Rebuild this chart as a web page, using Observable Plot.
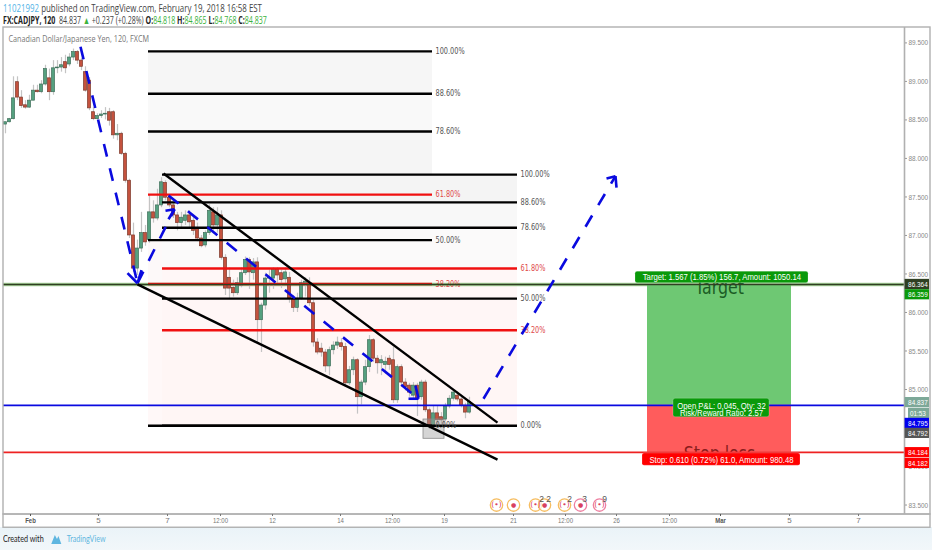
<!DOCTYPE html>
<html><head><meta charset="utf-8">
<script src="https://cdn.jsdelivr.net/npm/d3@7"></script>
<script src="https://cdn.jsdelivr.net/npm/@observablehq/plot@0.6"></script>
<style>
html,body{margin:0;padding:0;background:#fff;overflow:hidden;width:932px;height:550px}
#head{height:26px;font:10.4px/12px "Open Sans",sans-serif;color:#444;padding:2px 0 0 3px;box-sizing:border-box;white-space:nowrap;}
#head>div{transform:scaleX(.68);transform-origin:0 0}
#head>div:first-child{transform:scaleX(.76)}
#head .b{font-weight:700;color:#222}#head .g{color:#3cb33c}#head .u{color:#53b3e6}
#chart{height:501px}#chart svg{display:block}
#foot{height:23px;background:linear-gradient(#eaf3f8,#f2f7fa);padding-left:3px;box-sizing:border-box}
#foot>div{font:10px/23px Lato,sans-serif;color:#222;white-space:nowrap;display:flex;align-items:center;transform:scaleX(.72);transform-origin:0 0}
#foot svg{margin:0 6px 0 8px}
#foot .t{color:#5fb6e0}
</style></head><body>
<div id="head"><div><span class="u">11021992</span> published on TradingView.com, February 19, 2018 16:58 EST</div>
<div><span class="b">FX:CADJPY, 120</span>&nbsp; 84.837 <span class="g">▲</span> +0.237 (+0.28%) <span class="b">O:</span><span class="g">84.818</span> <span class="b">H:</span><span class="g">84.865</span> <span class="b">L:</span><span class="g">84.768</span> <span class="b">C:</span><span class="g">84.837</span></div></div>
<div id="chart"></div>
<div id="foot"><div><span>Created with</span><svg width="18" height="12" viewBox="0 0 16 12"><path d="M1 11 L6 2 L9 6 L11 3 L15 11 Z" fill="#5fb6e0"/></svg><span class="t">TradingView</span></div></div>
<script>
const opens=[88.44,88.47,88.51,88.99,88.79,88.69,88.66,88.75,88.88,88.86,88.96,89.04,88.86,89.17,89.18,89.25,89.22,89.31,89.38,89.27,89.12,89.01,88.60,88.51,88.55,88.57,88.60,88.60,88.30,88.32,88.06,87.71,87.00,86.57,86.83,87.03,86.94,87.30,87.22,87.39,87.68,87.49,87.39,87.26,87.16,87.19,87.26,87.19,87.09,86.96,86.87,87.03,87.30,87.13,87.26,86.71,86.45,86.32,86.25,86.35,86.51,86.68,86.51,86.65,85.90,86.09,86.44,86.44,86.55,86.51,86.43,86.45,86.18,86.06,86.18,86.36,86.38,86.12,85.61,85.53,85.48,85.30,85.51,85.57,85.60,85.55,85.08,85.25,85.38,84.90,85.09,85.29,85.64,85.40,85.34,85.32,85.40,85.38,84.86,85.29,85.09,85.05,84.92,85.05,84.90,85.09,84.73,84.53,84.69,84.64,84.61,84.78,84.88,84.92,84.87,84.79,84.70];
const closes=[88.47,88.51,88.78,88.79,88.68,88.66,88.75,88.88,88.86,88.96,89.16,88.86,89.17,89.18,89.21,89.17,89.31,89.38,89.27,89.19,88.88,88.65,88.51,88.55,88.57,88.58,88.49,88.30,88.32,88.06,87.71,87.00,86.57,86.83,87.03,86.91,87.30,87.22,87.39,87.69,87.49,87.39,87.26,87.16,87.23,87.26,87.17,87.06,86.96,86.86,87.03,87.32,87.13,87.26,86.71,86.31,86.31,86.25,86.38,86.51,86.68,86.52,86.65,85.90,86.09,86.44,86.45,86.55,86.48,86.42,86.52,86.18,86.06,86.18,86.38,86.40,86.12,85.61,85.48,85.48,85.30,85.51,85.57,85.61,85.55,85.08,85.25,85.38,84.90,85.09,85.29,85.64,85.40,85.34,85.38,85.36,85.32,84.86,85.29,85.09,85.03,84.96,85.05,84.88,85.09,84.73,84.53,84.69,84.60,84.60,84.78,84.88,84.96,84.87,84.79,84.70,84.84];
const highs=[88.47,88.52,89.06,89.06,88.88,88.75,88.82,88.95,88.95,89.01,89.21,89.16,89.27,89.27,89.31,89.34,89.36,89.42,89.40,89.30,89.19,89.05,88.66,88.58,88.62,88.66,88.65,88.62,88.44,88.34,88.08,87.73,87.16,86.94,87.30,87.13,87.52,87.45,87.60,87.75,87.71,87.52,87.42,87.30,87.30,87.32,87.32,87.26,87.16,87.00,87.06,87.40,87.36,87.36,87.32,86.75,86.58,86.42,86.45,86.58,86.72,86.71,86.70,86.71,86.12,86.51,86.55,86.58,86.58,86.55,86.58,86.52,86.22,86.25,86.42,86.45,86.45,86.16,85.66,85.60,85.52,85.55,85.62,85.68,85.66,85.60,85.30,85.42,85.40,85.12,85.38,85.70,85.66,85.44,85.44,85.42,85.44,85.55,85.32,85.32,85.14,85.08,85.09,85.08,85.12,85.12,84.76,84.78,84.78,84.70,84.82,84.92,85.00,84.97,84.90,84.82,84.90];
const lows=[88.32,88.46,88.50,88.75,88.65,88.64,88.65,88.75,88.85,88.84,88.94,88.75,88.82,89.10,89.12,89.10,89.19,89.27,89.22,89.14,88.86,88.62,88.49,88.49,88.52,88.50,88.42,88.25,88.23,88.04,87.68,86.96,86.52,86.48,86.78,86.86,86.90,87.16,87.19,87.36,87.45,87.36,87.22,87.06,87.09,87.13,87.10,87.00,86.92,86.84,86.84,87.00,87.06,87.03,86.68,86.22,86.18,86.20,86.22,86.32,86.48,86.30,86.42,85.60,85.48,86.03,86.25,86.30,86.35,86.31,86.35,86.12,86.00,86.00,86.16,86.20,86.08,85.55,85.45,85.42,85.22,85.18,85.45,85.52,85.50,85.03,85.05,85.18,84.68,84.80,85.05,85.22,85.35,85.20,85.18,85.20,85.25,84.82,84.82,85.03,84.98,84.90,84.88,84.65,84.86,84.70,84.48,84.50,84.53,84.55,84.58,84.75,84.85,84.84,84.76,84.62,84.68];
// Reading spots: bar number on x, price on y.
const yTicks=[89.5,89,88.5,88,87.5,87,86.5,86,85.5,85,84.5,84,83.5];
const xTickBars=[6.75,23.75,41,54.25,67.25,84.25,97.25,110.25,127.5,140.5,153.25,166.5,179.25,196.5,213.75];
const xTickLabels=["Feb","5","7","12:00","12","14","12:00","19","21","12:00","26","12:00","Mar","5","7"];
const fibRatios=[1,.886,.786,.618,.5,.382,0];
const fibLabels=["100.00%","88.60%","78.60%","61.80%","50.00%","38.20%","0.00%"];
const fibAPrices=[89.39,88.84,88.35,87.53,86.94,86.37,84.53];
const fibBPrices=[87.79,87.43,87.10,86.57,86.18,85.77,84.53];
const fibAx=[36.25,107.25], fibBx=[39.75,128.5];
const shaftX1=[19.25,33.5,41.25,120], shaftY1=[89.45,86.38,87.52,84.88];
const shaftX2=[33.5,42.75,103.75,153], shaftY2=[86.38,87.34,84.88,87.77];
const barbTipX=[33.5,33.5,42.75,42.75,103.75,103.75,153,153];
const barbTipY=[86.38,86.38,87.34,87.34,84.88,84.88,87.77,87.77];
const barbX=[34.5,31,40.5,41.25,101.25,103,150.75,153.25];
const barbY=[86.55,86.51,87.32,87.21,84.88,85.05,87.74,87.62];
const target=86.364, entry=84.795, stop=84.184;
const tagLabels=["86.364","86.359","84.837","01:53","84.795","84.792","84.184","84.182"];
const tagPrices=[86.364,86.23,84.83,84.69,84.56,84.43,84.18,84.04];
const tagColors=["#2f3f22","#0a990a","#7da898","#7da898","#0000ee","#555555","#ff0000","#ff0000"];
const tagLeft=[225.4,225.4,225.4,226.25,225.4,225.4,225.4,225.4];
const eventBars=[123.25,127.5,133,135.25,140.25,144.25,149];
const eventColors=["#f6bd60","#f6bd60","#f6bd60","#f6bd60","#f6bd60","#ee7fa0","#ee7fa0"];
const eventGlyphs=["(•)","●","(•)","●","(•)","●","(•)"];
const countBars=[134.5,136.25,141.5,145.25,150.25], countLabels=["2","2","2","3","9"];

const bars=opens.map((o,i)=>({i,o,c:closes[i],h:highs[i],l:lows[i],up:closes[i]>=o}));
const zip=(...a)=>a[0].map((_,i)=>a.map(s=>s[i]));
const bandsA=[[0,1,"#f6f6f6"],[1,2,"#f9f9f9"],[2,3,"#f5f5f5"],[3,5,"#fdf9f9"],[5,6,"#fff8f8"]];
const bandsB=[[0,1,"#f4f4f4"],[1,2,"#f8f8f8"],[2,3,"#fbfafa"],[3,4,"#fff7f7"],[4,5,"#fff6f6"],[5,6,"#fff6f5"]];
const F="Liberation Sans";
const band=(x,p,spec)=>Plot.rect(spec,{x1:x[0],x2:x[1],y1:d=>p[d[0]],y2:d=>p[d[1]],fill:d=>d[2]});
const fibLine=(x,p)=>Plot.ruleY(fibRatios.map((r,i)=>i),{x1:x[0],x2:x[1],y:i=>p[i],stroke:i=>(i==3||i==5)?"#f01010":"#000",strokeWidth:2.4});
const fibText=(x,p)=>Plot.text(fibRatios.map((r,i)=>i),{x:x[1],y:i=>p[i],text:i=>fibLabels[i],dx:3,textAnchor:"start",fill:i=>(i==3||i==5)?"#e04a4a":"#555",fontSize:8.5,fontFamily:"DejaVu Sans"});
const labelBox=(x1,x2,y1,y2,fill)=>Plot.rect([0],{x1,x2,y1,y2,fill,rx:2,stroke:"#ffffff66",strokeWidth:.5});
const label=(t,x,y)=>Plot.text([t],{x,y,text:d=>d,fill:"#fff",fontSize:9.2,fontFamily:F,textAnchor:"middle",fontWeight:400});

const plot=Plot.plot({
  width:932,height:501,marginTop:1,marginBottom:13,marginLeft:3,marginRight:28,
  style:{background:"transparent",fontFamily:F,overflow:"visible"},
  x:{domain:[0,225.25],range:[3,904],axis:null},
  y:{domain:[83.377,89.70],axis:null},
  color:{type:"identity"},
  marks:[
    band(fibAx,fibAPrices,bandsA),
    band(fibBx,fibBPrices,bandsB),
    Plot.ruleY([target],{stroke:"#a9d39a",strokeWidth:3.5,x1:0,x2:225.25}),
    Plot.ruleX(bars,{x:d=>d.i+.5,y1:"l",y2:"h",stroke:"#c4c4c4",strokeWidth:1.2}),
    Plot.rect(bars,{x1:d=>d.i+.12,x2:d=>d.i+.88,y1:"o",y2:"c",fill:d=>d.up?"#55a07f":"#c4523e",stroke:d=>d.up?"#3f6f5a":"#7d3a2c",strokeWidth:.7}),
    Plot.rect([0],{x1:105,x2:110.25,y1:84.36,y2:84.61,fill:"#9a9a9a",fillOpacity:.42,stroke:"#888",strokeWidth:.8}),
    fibLine(fibAx,fibAPrices),
    fibLine(fibBx,fibBPrices),
    fibText(fibAx,fibAPrices),
    fibText(fibBx,fibBPrices),
    Plot.rect([0],{x1:161,x2:197,y1:entry,y2:target,fill:"#6ec873"}),
    Plot.rect([0],{x1:161,x2:197,y1:stop,y2:entry,fill:"#ff5c5c"}),
    Plot.text(["Target"],{x:179,y:86.32,text:d=>d,fontSize:20,fill:"#1a5c24",fontFamily:"DejaVu Sans"}),
    Plot.text(["Stop loss"],{x:179,y:84.17,text:d=>d,fontSize:20,fill:"#8a1c1c",fontFamily:"DejaVu Sans"}),
    Plot.ruleY([target],{stroke:"#2f3f22",strokeWidth:1.4,x1:0,x2:225.25}),
    Plot.ruleY([entry],{stroke:"#0a0ae0",strokeWidth:1.8,x1:0,x2:225.25}),
    Plot.ruleY([stop],{stroke:"#ee2222",strokeWidth:1.8,x1:0,x2:225.25}),
    Plot.link(zip(shaftX1,shaftY1,shaftX2,shaftY2),{x1:d=>d[0],y1:d=>d[1],x2:d=>d[2],y2:d=>d[3],stroke:"#0a0adf",strokeWidth:2.6,strokeDasharray:"13 12"}),
    Plot.link(zip(barbTipX,barbTipY,barbX,barbY),{x1:d=>d[0],y1:d=>d[1],x2:d=>d[2],y2:d=>d[3],stroke:"#0a0adf",strokeWidth:2.6}),
    Plot.link([[40,87.805,123.5,84.57],[33.5,86.364,123.5,84.09]],{x1:d=>d[0],y1:d=>d[1],x2:d=>d[2],y2:d=>d[3],stroke:"#000",strokeWidth:2.4}),
    labelBox(158,201.25,86.38,86.53,"#0a990a"),
    label("Target: 1.567 (1.85%) 156.7, Amount: 1050.14",179.6,86.455),
    labelBox(159.75,199.25,84.01,84.17,"#ff0000"),
    label("Stop: 0.610 (0.72%) 61.0, Amount: 980.48",179.5,84.09),
    labelBox(167.5,191.5,84.64,84.88,"#0a990a"),
    label("Open P&L: 0.045, Qty: 32",179.5,84.79),
    label("Risk/Reward Ratio: 2.57",179.5,84.695),
    Plot.dot(eventBars.map((b,i)=>i),{x:i=>eventBars[i],y:83.5,r:6.2,fill:"#fff",fillOpacity:.7,stroke:i=>eventColors[i],strokeWidth:1.3}),
    Plot.text(eventBars.map((b,i)=>i),{x:i=>eventBars[i],y:83.5,text:i=>eventGlyphs[i],fontSize:i=>eventGlyphs[i].length>1?7.5:6,fill:"#d8405f",fontFamily:"DejaVu Sans"}),
    Plot.text(countBars.map((b,i)=>i),{x:i=>countBars[i],y:83.57,text:i=>countLabels[i],fontSize:8.5,fill:"#555"}),
    Plot.rect([0],{x1:0,x2:231.75,y1:83.377,y2:89.70,stroke:"#b0b0b0",strokeWidth:1.4,fill:"none"}),
    Plot.rect([0],{x1:0,x2:231.75,y1:83.205,y2:83.377,stroke:"#b0b0b0",strokeWidth:1.4,fill:"none"}),
    Plot.ruleX([225.25],{y1:83.377,y2:89.70,stroke:"#b0b0b0",strokeWidth:1.6}),
    Plot.axisY({ticks:yTicks,anchor:"right",tickFormat:d3.format(".3f"),tickSize:2,tickPadding:2,fontSize:8,fontFamily:F,color:"#888",stroke:"#999",label:null}),
    Plot.axisX({ticks:xTickBars.filter((b,i)=>!/[a-z]/.test(xTickLabels[i])),tickFormat:b=>xTickLabels[xTickBars.indexOf(b)],anchor:"bottom",tickSize:2,tickPadding:1,fontSize:8,color:"#777",label:null}),
    Plot.axisX({ticks:xTickBars.filter((b,i)=>/[a-z]/.test(xTickLabels[i])),tickFormat:b=>xTickLabels[xTickBars.indexOf(b)],anchor:"bottom",tickSize:2,tickPadding:1,fontSize:8,fontWeight:700,color:"#555",label:null}),
    Plot.rect(tagLabels.map((t,i)=>i),{x1:i=>tagLeft[i],x2:231.5,y1:i=>tagPrices[i]-.066,y2:i=>tagPrices[i]+.066,fill:i=>tagColors[i]}),
    Plot.text(tagLabels.map((t,i)=>i),{x:228.6,y:i=>tagPrices[i],text:i=>tagLabels[i],fill:"#fff",fontSize:8,fontFamily:F}),
    Plot.text(["Canadian Dollar/Japanese Yen, 120, FXCM"],{x:1.25,y:89.555,text:d=>d,textAnchor:"start",fontSize:9.8,fill:"#777",fontFamily:"Open Sans"})
  ]
});
document.getElementById("chart").append(plot);
// The reference's text is horizontally condensed: keep it as real text and fit it.
d3.select(plot).selectAll("text").each(function(){
  const t=this.textContent.trim();
  if(t.length<2||t=="(•)") return;
  let f=.75;
  if(/^\d+\.\d{3}$|^01:53$/.test(t)) f=.8;
  else if(/%$/.test(t)) f=.77;
  else if(t=="Target"||t=="Stop loss") f=.79;
  else if(/Amount|Qty|Ratio/.test(t)) f=.84;
  else if(t.startsWith("Canadian")) f=.74;
  this.setAttribute("textLength",this.getComputedTextLength()*f);
  this.setAttribute("lengthAdjust","spacingAndGlyphs");
});
</script>
</body></html>
